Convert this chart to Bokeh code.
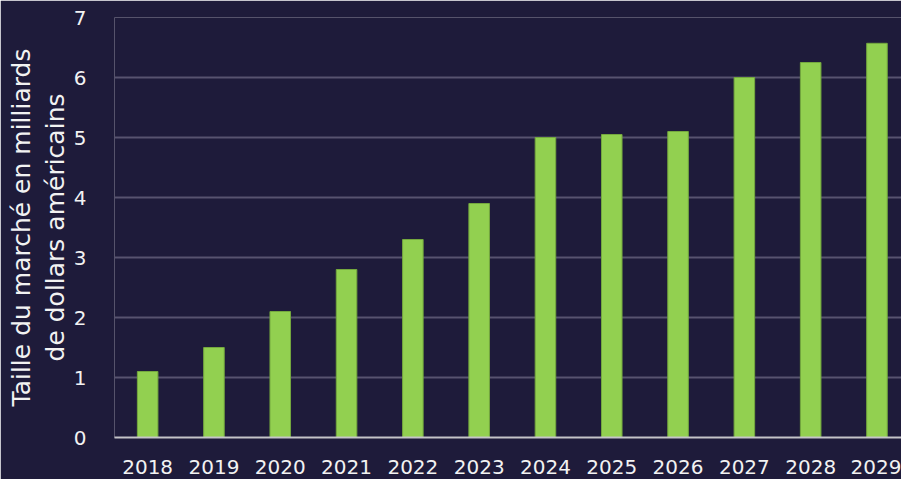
from bokeh.plotting import figure
from bokeh.models import Range1d, FixedTicker, ColumnDataSource
from bokeh.embed import file_html
from bokeh.resources import INLINE

years = ["2018", "2019", "2020", "2021", "2022", "2023", "2024", "2025", "2026", "2027", "2028", "2029"]
values = [1.1, 1.5, 2.1, 2.8, 3.3, 3.9, 5.0, 5.05, 5.1, 6.0, 6.25, 6.57]
y_ticks = [0, 1, 2, 3, 4, 5, 6, 7]
y_label = "Taille du marché en milliards\nde dollars américains"

BG = "#1e1b3a"
FONT = "DejaVu Sans"

x_pos = list(range(len(years)))
src = ColumnDataSource(dict(x=x_pos, top=values))

p = figure(width=901, height=479, output_backend="svg", toolbar_location=None,
           x_range=Range1d(-0.5, 11.37), y_range=Range1d(0, 7),
           min_border_left=114, min_border_top=17, min_border_bottom=42, min_border_right=0)

p.background_fill_color = BG
p.border_fill_color = BG
p.outline_line_color = None

p.vbar(x="x", top="top", width=0.31, source=src, fill_color="#92d050", line_color="#74a83e", line_width=1)

p.xaxis.ticker = FixedTicker(ticks=x_pos)
p.xaxis.major_label_overrides = {i: y for i, y in enumerate(years)}
p.xaxis.axis_line_color = "#c4c4c8"
p.xaxis.axis_line_width = 2
p.xaxis.major_tick_line_color = None
p.xaxis.minor_tick_line_color = None
p.xaxis.major_label_text_color = "#f2f2f2"
p.xaxis.major_label_text_font = FONT
p.xaxis.major_label_text_font_size = "20px"
p.xaxis.major_label_standoff = 16

p.yaxis.ticker = FixedTicker(ticks=y_ticks)
p.yaxis.axis_line_color = None
p.yaxis.major_tick_line_color = None
p.yaxis.minor_tick_line_color = None
p.yaxis.major_label_text_color = "#f2f2f2"
p.yaxis.major_label_text_font = FONT
p.yaxis.major_label_text_font_size = "20px"
p.yaxis.major_label_standoff = 22
p.yaxis.axis_label = y_label
p.yaxis.axis_label_text_color = "#f2f2f2"
p.yaxis.axis_label_text_font = FONT
p.yaxis.axis_label_text_font_size = "25px"
p.yaxis.axis_label_text_font_style = "normal"
p.yaxis.axis_label_standoff = 1
p.yaxis.axis_label_text_line_height = 1.15

p.xgrid.grid_line_color = None
p.ygrid.grid_line_color = "#57536f"
p.ygrid.grid_line_width = 2

open("out.html", "w").write(file_html(p, INLINE))
